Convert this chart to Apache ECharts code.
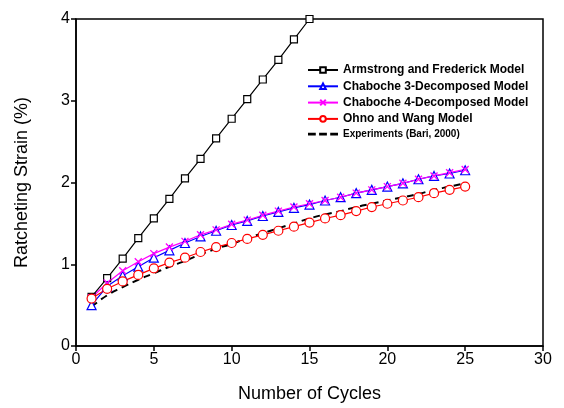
<!DOCTYPE html>
<html>
<head>
<meta charset="utf-8">
<script src="https://cdn.jsdelivr.net/npm/echarts@6/dist/echarts.min.js"></script>
<style>
  html, body { margin: 0; padding: 0; background: #fff; }
  #chart { width: 564px; height: 408px; }
</style>
</head>
<body>
<div id="chart"></div>
<script>
// values
let armstrongCycles = [1, 2, 3, 4, 5, 6, 7, 8, 9, 10, 11, 12, 13, 14, 15];
let armstrong       = [0.60, 0.83, 1.07, 1.32, 1.56, 1.80, 2.05, 2.29, 2.54, 2.78, 3.02, 3.26, 3.50, 3.75, 4.00];

let cycles     = [1, 2, 3, 4, 5, 6, 7, 8, 9, 10, 11, 12, 13, 14, 15, 16, 17, 18, 19, 20, 21, 22, 23, 24, 25];
let chaboche3  = [0.50, 0.73, 0.86, 0.97, 1.08, 1.17, 1.26, 1.34, 1.41, 1.48, 1.53, 1.59, 1.64, 1.69, 1.73, 1.78, 1.82, 1.87, 1.91, 1.95, 1.99, 2.04, 2.08, 2.11, 2.15];
let chaboche4  = [0.59, 0.77, 0.92, 1.03, 1.13, 1.21, 1.28, 1.36, 1.42, 1.49, 1.54, 1.60, 1.65, 1.70, 1.74, 1.78, 1.82, 1.87, 1.91, 1.95, 1.99, 2.04, 2.08, 2.12, 2.16];
let ohnoWang   = [0.58, 0.70, 0.79, 0.87, 0.95, 1.02, 1.08, 1.15, 1.21, 1.26, 1.31, 1.36, 1.41, 1.46, 1.51, 1.56, 1.60, 1.65, 1.70, 1.74, 1.78, 1.82, 1.87, 1.91, 1.95];
let experiment = [0.48, 0.62, 0.72, 0.81, 0.89, 0.97, 1.04, 1.12, 1.19, 1.25, 1.32, 1.38, 1.44, 1.50, 1.56, 1.61, 1.65, 1.70, 1.74, 1.78, 1.82, 1.86, 1.91, 1.95, 1.99];

let seriesNames = [
    'Armstrong and Frederick Model',
    'Chaboche 3-Decomposed Model',
    'Chaboche 4-Decomposed Model',
    'Ohno and Wang Model',
    'Experiments (Bari, 2000)'
];

function pairs(xs, ys){
    let out = [];
    for(let i = 0; i < ys.length; i++){
        out.push([xs[i], ys[i]]);
    }
    return out;
}

let font = 'Arial, "Liberation Sans", sans-serif';
let crossPath = 'path://M0,0L10,10M10,0L0,10';
let dashIcon  = 'path://M0,4h7v2.4h-7zM10,4h7v2.4h-7zM20,4h7v2.4h-7z';

let chart = echarts.init(document.getElementById('chart'));

let option = {
    animation: false,
    backgroundColor: '#fff',
    grid: {
        left: 76, right: 21, top: 19, bottom: 61,
        show: true, borderColor: '#000', borderWidth: 1.5
    },
    legend: {
        orient: 'vertical',
        left: 302, top: 59,
        itemWidth: 30, itemHeight: 7, itemGap: 4.3,
        textStyle: { fontFamily: font, fontWeight: 'bold', fontSize: 12, color: '#000' },
        data: [
            { name: seriesNames[0] },
            { name: seriesNames[1] },
            { name: seriesNames[2] },
            { name: seriesNames[3] },
            { name: seriesNames[4], icon: dashIcon, itemStyle: { color: '#000', borderWidth: 0 },
              textStyle: { fontSize: 10, padding: [7, 0, 0, 0] } }
        ]
    },
    xAxis: {
        type: 'value', min: 0, max: 30, interval: 5,
        name: 'Number of Cycles', nameLocation: 'middle', nameGap: 39,
        nameTextStyle: { fontFamily: font, fontSize: 18, color: '#000' },
        axisLine: { lineStyle: { color: '#000', width: 1.5 } },
        axisTick: { inside: false, length: 5, lineStyle: { color: '#000', width: 1.5 } },
        axisLabel: { fontFamily: font, fontSize: 16, color: '#000', margin: 6 },
        splitLine: { show: false }
    },
    yAxis: {
        type: 'value', min: 0, max: 4, interval: 1,
        name: 'Ratcheting Strain (%)', nameLocation: 'middle', nameGap: 45,
        nameTextStyle: { fontFamily: font, fontSize: 18, color: '#000' },
        axisLine: { show: true, lineStyle: { color: '#000', width: 1.5 } },
        axisTick: { show: true, inside: false, length: 5, lineStyle: { color: '#000', width: 1.5 } },
        axisLabel: { fontFamily: font, fontSize: 16, color: '#000', margin: 6 },
        splitLine: { show: false }
    },
    series: [
        {
            name: seriesNames[0], type: 'line',
            data: pairs(armstrongCycles, armstrong),
            symbol: 'rect', symbolSize: 7,
            lineStyle: { color: '#000', width: 1.2 },
            itemStyle: { color: '#fff', borderColor: '#000', borderWidth: 1.2 }
        },
        {
            name: seriesNames[1], type: 'line',
            data: pairs(cycles, chaboche3),
            symbol: 'triangle', symbolSize: 9,
            lineStyle: { color: '#0000ff', width: 1.2 },
            itemStyle: { color: '#fff', borderColor: '#0000ff', borderWidth: 1.2 }
        },
        {
            name: seriesNames[2], type: 'line',
            data: pairs(cycles, chaboche4),
            symbol: crossPath, symbolSize: 7,
            lineStyle: { color: '#ff00ff', width: 1.2 },
            itemStyle: { color: 'rgba(0,0,0,0)', borderColor: '#ff00ff', borderWidth: 1.3 }
        },
        {
            name: seriesNames[3], type: 'line',
            data: pairs(cycles, ohnoWang),
            symbol: 'circle', symbolSize: 9,
            lineStyle: { color: '#ff0000', width: 1.2 },
            itemStyle: { color: '#fff', borderColor: '#ff0000', borderWidth: 1.2 }
        },
        {
            name: seriesNames[4], type: 'line',
            data: pairs(cycles, experiment),
            smooth: true, showSymbol: false, symbol: 'none',
            lineStyle: { color: '#000', width: 2, type: [7, 5] },
            itemStyle: { color: '#000' },
            z: 1
        }
    ]
};

chart.setOption(option);
</script>
</body>
</html>
